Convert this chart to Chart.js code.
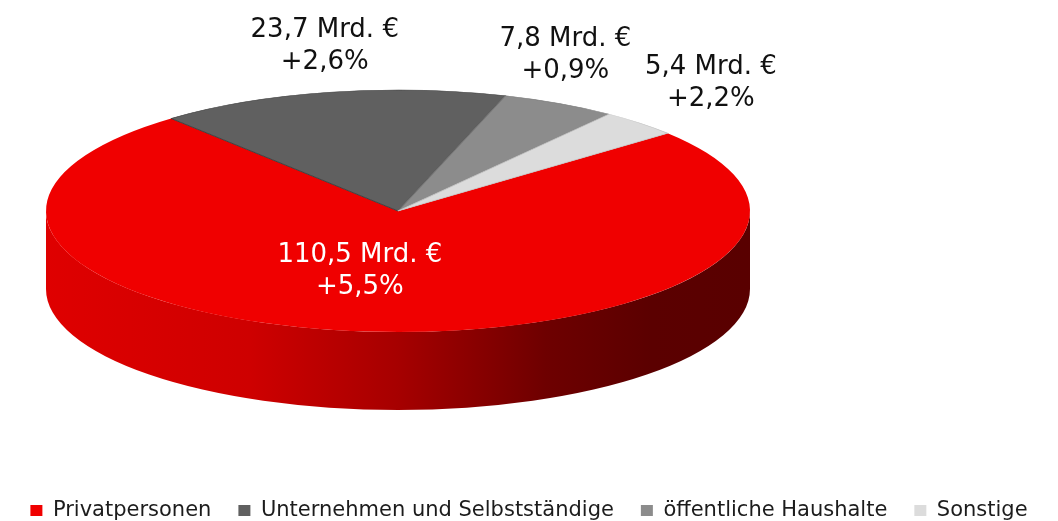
<!DOCTYPE html>
<html><head><meta charset="utf-8">
<script src="https://cdn.jsdelivr.net/npm/chart.js@4/dist/chart.umd.min.js"></script>
<style>html,body{margin:0;padding:0;background:#fff}</style>
</head><body>
<canvas id="c" width="1058" height="521"></canvas>
<script>
const categories = ['Privatpersonen', 'Unternehmen und Selbstständige', 'öffentliche Haushalte', 'Sonstige'];
const volumes = [110.5, 23.7, 7.8, 5.4];   // Mrd. €
const growth = [5.5, 2.6, 0.9, 2.2];       // % change
const colors = ['#f00000', '#606060', '#8c8c8c', '#dcdcdc'];
const borderColors = ['#f00000', '#3c3c3c', '#777777', '#c4c4c4'];
const labelColors = ['#ffffff', '#111111', '#111111', '#111111'];

const fmt = v => v.toFixed(1).replace('.', ',');

function shade(hex, f) {
  const n = parseInt(hex.slice(1), 16);
  const r = Math.round(((n >> 16) & 255) * f), g = Math.round(((n >> 8) & 255) * f), b = Math.round((n & 255) * f);
  return `rgb(${r},${g},${b})`;
}
const sideShades = [[0, 0.93], [0.29, 0.86], [0.5, 0.69], [0.71, 0.46], [0.86, 0.38], [1, 0.37]];

const pie3d = {
  id: 'pie3d',
  beforeDatasetsDraw(chart, args, o) {
    const meta = chart.getDatasetMeta(0);
    const ctx = chart.ctx;
    const first = meta.data[0];
    meta.data.forEach((arc, i) => {
      const {startAngle, endAngle} = arc.getProps(['startAngle', 'endAngle'], true);
      for (let k = -2; k <= 2; k++) {
        const a0 = Math.max(startAngle + 2 * Math.PI * k, 0);
        const a1 = Math.min(endAngle + 2 * Math.PI * k, Math.PI);
        if (a1 <= a0) continue;
        const g = ctx.createLinearGradient(o.cx - o.rx, 0, o.cx + o.rx, 0);
        sideShades.forEach(([t, f]) => g.addColorStop(t, shade(colors[i], f)));
        ctx.beginPath();
        ctx.ellipse(o.cx, o.cy, o.rx, o.ry, 0, a0, a1, false);
        ctx.ellipse(o.cx, o.cy + o.depth, o.rx, o.ry, 0, a1, a0, true);
        ctx.closePath();
        ctx.fillStyle = g;
        ctx.fill();
      }
    });
    ctx.save();
    ctx.translate(o.cx, o.cy);
    ctx.scale(o.rx / first.outerRadius, o.ry / first.outerRadius);
    ctx.translate(-first.x, -first.y);
  },
  afterDatasetsDraw(chart) {
    chart.ctx.restore();
  },
  afterDraw(chart, args, o) {
    const meta = chart.getDatasetMeta(0);
    const ctx = chart.ctx;
    ctx.save();
    ctx.font = '26px "DejaVu Sans"';
    ctx.textAlign = 'center';
    ctx.textBaseline = 'middle';
    meta.data.forEach((arc, i) => {
      const {startAngle, endAngle} = arc.getProps(['startAngle', 'endAngle'], true);
      const mid = (startAngle + endAngle) / 2;
      const f = o.labelRadius[i];
      const x = o.cx + o.rx * f * Math.cos(mid) + o.labelOffsets[i][0];
      const y = o.cy + o.ry * f * Math.sin(mid) + o.labelOffsets[i][1];
      ctx.fillStyle = labelColors[i];
      ctx.fillText(fmt(volumes[i]) + ' Mrd. €', x, y - o.lineGap / 2);
      ctx.fillText('+' + fmt(growth[i]) + '%', x, y + o.lineGap / 2);
    });
    ctx.restore();
  }
};

new Chart(document.getElementById('c'), {
  type: 'pie',
  data: {
    labels: categories,
    datasets: [{
      data: volumes,
      backgroundColor: colors,
      borderColor: borderColors,
      borderWidth: [0, 1, 1, 1],
      hoverOffset: 0,
      clip: false
    }]
  },
  options: {
    responsive: false,
    devicePixelRatio: 1,
    animation: false,
    events: [],
    rotation: 50,
    layout: {padding: {left: 0, right: 0, top: 0, bottom: -10}},
    plugins: {
      tooltip: {enabled: false},
      legend: {
        position: 'bottom',
        labels: {
          boxWidth: 12,
          boxHeight: 11,
          padding: 27,
          color: '#1c1c1c',
          font: {family: '"DejaVu Sans"', size: 21},
          generateLabels(chart) {
            const items = Chart.controllers.pie.overrides.plugins.legend.labels.generateLabels(chart);
            items.forEach(it => { it.lineWidth = 0; it.strokeStyle = it.fillStyle; });
            return items;
          }
        }
      },
      pie3d: {
        cx: 398, cy: 211, rx: 352, ry: 121, depth: 78,
        lineGap: 32,
        labelRadius: [0.5, 1, 1, 1],
        labelOffsets: [[-23, 0], [-5, -46], [6, -48], [71, -40]]
      }
    }
  },
  plugins: [pie3d]
});
</script>
</body></html>
